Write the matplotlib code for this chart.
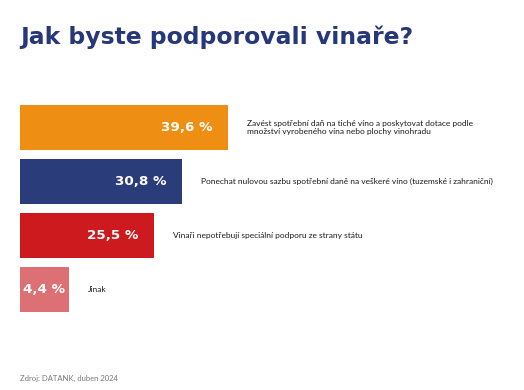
import matplotlib
matplotlib.use("Agg")
import matplotlib.pyplot as plt

# data
answers = [
    "Zavést spotřební daň na tiché víno a poskytovat dotace podle\nmnožství vyrobeného vína nebo plochy vinohradu",
    "Ponechat nulovou sazbu spotřební daně na veškeré víno (tuzemské i zahraniční)",
    "Vinaři nepotřebují speciální podporu ze strany státu",
    "Jinak",
]
shares = [39.6, 30.8, 25.5, 4.4]
value_labels = ["39,6 %", "30,8 %", "25,5 %", "4,4 %"]
colors = ["#EE8E12", "#2B3C7A", "#CC1A1E", "#DC7075"]

title = "Jak byste podporovali vinaře?"
source = "Zdroj: DATANK, duben 2024"
navy = "#263877"

plt.rcParams['font.family'] = ['Lato', 'DejaVu Sans']

W, H = 524, 390
fig = plt.figure(figsize=(W / 100, H / 100), dpi=100)
fig.patch.set_facecolor("white")

# axes spans x 20..524 px, y 100..316 px
ax = fig.add_axes([20 / W, 1 - 316.5 / H, 504 / W, 216 / H])
px_per_unit = 5.25
ax.set_xlim(0, 504 / px_per_unit)
ax.set_ylim(3.5, -0.5)
ax.axis("off")

min_w = 9.3  # keep small bar wide enough for its label
for i, (lab, v, vl, c) in enumerate(zip(answers, shares, value_labels, colors)):
    w = max(v, min_w)
    ax.barh(i, w, height=0.835, color=c, left=0)
    if v < min_w:
        ax.text(w / 2, i, vl, ha="center", va="center", color="white",
                fontsize=9.7, fontweight="bold", family="DejaVu Sans")
    else:
        ax.text(w - 2.9, i, vl, ha="right", va="center", color="white",
                fontsize=9.7, fontweight="bold", family="DejaVu Sans")
    ax.text(w + 3.6, i, lab, ha="left", va="center", color="#1a1a1a",
            fontsize=6.0, linespacing=1.3)

fig.text(20 / W, 1 - 37 / H, title, ha="left", va="center", color=navy,
         fontsize=16.9, fontweight="bold", family="DejaVu Sans")
fig.text(20 / W, 1 - 378 / H, source, ha="left", va="center", color="#777777",
         fontsize=5.5)

fig.savefig("out.png", dpi=100)
